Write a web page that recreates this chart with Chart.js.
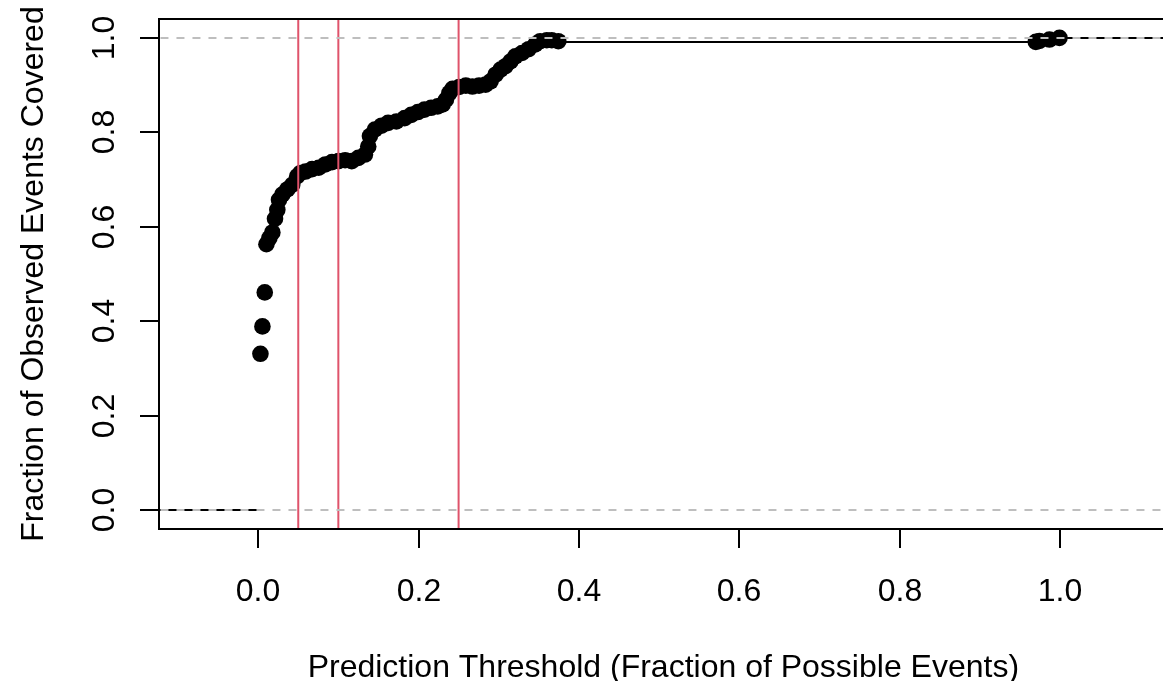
<!DOCTYPE html>
<html>
<head>
<meta charset="utf-8">
<script src="https://cdn.jsdelivr.net/npm/chart.js@4.4.1/dist/chart.umd.min.js"></script>
<style>
  html, body { margin: 0; padding: 0; background: #fff; overflow: hidden; }
  #wrap { width: 1163px; height: 681px; overflow: hidden; position: relative; }
  #mycanvas { display: block; }
</style>
</head>
<body>
<div id="wrap"><canvas id="mycanvas" width="1176" height="681"></canvas></div>
<script>
// threshold (fraction of possible events) vs fraction of observed events covered
var thresholdX = [0.0028, 0.0053, 0.0082, 0.0103, 0.0140, 0.0177, 0.0210, 0.0239, 0.0260, 0.0301,
  0.0363, 0.0425, 0.0487, 0.0528, 0.0590, 0.0672, 0.0755, 0.0837, 0.0920, 0.1002,
  0.1085, 0.1167, 0.1250, 0.1332, 0.1373, 0.1394, 0.1456, 0.1538, 0.1621, 0.1724,
  0.1827, 0.1909, 0.1992, 0.2074, 0.2157, 0.2239, 0.2301, 0.2342, 0.2384, 0.2425,
  0.2507, 0.2590, 0.2672, 0.2755, 0.2837, 0.2899, 0.2961, 0.3023, 0.3085, 0.3146,
  0.3208, 0.3291, 0.3373, 0.3456, 0.3517, 0.3600, 0.3662, 0.3744,
  0.9700, 0.9745, 0.9870, 0.9995];
var coveredY = [0.331, 0.389, 0.461, 0.563, 0.576, 0.588, 0.617, 0.636, 0.657, 0.668,
  0.679, 0.689, 0.707, 0.714, 0.717, 0.722, 0.725, 0.732, 0.737, 0.739,
  0.741, 0.739, 0.746, 0.753, 0.770, 0.792, 0.806, 0.814, 0.820, 0.823,
  0.830, 0.837, 0.843, 0.848, 0.852, 0.855, 0.859, 0.869, 0.883, 0.892,
  0.896, 0.899, 0.897, 0.899, 0.901, 0.908, 0.922, 0.933, 0.940, 0.950,
  0.961, 0.968, 0.976, 0.986, 0.993, 0.995, 0.995, 0.993,
  0.9915, 0.9935, 0.9965, 1.0];

// step segments of the coverage line
var segStartX = [-0.3, 0.3744, 0.9995];
var segEndX = [0.0028, 0.9700, 1.3];
var segY = [0, 0.9915, 1.0];

// reference thresholds (red) and reference levels (grey dashed)
var redThresholds = [0.05, 0.1, 0.25];
var refLevels = [0, 1];

var xTicks = [0, 0.2, 0.4, 0.6, 0.8, 1.0];
var xTickLabels = ['0.0', '0.2', '0.4', '0.6', '0.8', '1.0'];
var yTicks = [0, 0.2, 0.4, 0.6, 0.8, 1.0];
var yTickLabels = ['0.0', '0.2', '0.4', '0.6', '0.8', '1.0'];

var xTitle = 'Prediction Threshold (Fraction of Possible Events)';
var yTitle = 'Fraction of Observed Events Covered';

var FONT = '32px "Liberation Sans", Arial, Helvetica, sans-serif';

var pts = [];
for (var i in thresholdX) {
  pts.push({ x: thresholdX[i], y: coveredY[i] });
}

var datasets = [];

for (var j = 0; j < refLevels.length; j++) {
  datasets.push({
    data: [{ x: -1, y: refLevels[j] }, { x: 2, y: refLevels[j] }],
    showLine: true, borderColor: '#bebebe', borderWidth: 2, borderDash: [8, 8],
    pointRadius: 0, order: 0
  });
}
for (var k = 0; k < redThresholds.length; k++) {
  datasets.push({
    data: [{ x: redThresholds[k], y: -0.5 }, { x: redThresholds[k], y: 1.5 }],
    showLine: true, borderColor: '#DF536B', borderWidth: 2,
    pointRadius: 0, order: 1
  });
}
for (var s = 0; s < segY.length; s++) {
  datasets.push({
    data: [{ x: segStartX[s], y: segY[s] }, { x: segEndX[s], y: segY[s] }],
    showLine: true, borderColor: '#000', borderWidth: 2,
    pointRadius: 0, order: 2
  });
}
datasets.push({
  data: pts,
  showLine: false,
  pointRadius: 8.3,
  pointBorderWidth: 0,
  pointBackgroundColor: '#000',
  pointBorderColor: '#000',
  order: 3
});

// R style box, ticks and labels
var rAxes = {
  id: 'rAxes',
  afterDraw: function(chart) {
    var ctx = chart.ctx;
    var a = chart.chartArea;
    var xs = chart.scales.x;
    var ys = chart.scales.y;
    ctx.save();
    ctx.strokeStyle = '#000';
    ctx.lineWidth = 2;
    ctx.strokeRect(a.left, a.top, a.right - a.left, a.bottom - a.top);

    ctx.fillStyle = '#000';
    ctx.font = FONT;
    ctx.textAlign = 'center';
    ctx.textBaseline = 'alphabetic';

    for (var i = 0; i < xTicks.length; i++) {
      var px = Math.round(xs.getPixelForValue(xTicks[i]));
      ctx.beginPath();
      ctx.moveTo(px, a.bottom);
      ctx.lineTo(px, a.bottom + 19);
      ctx.stroke();
      ctx.fillText(xTickLabels[i], px, 600.5);
    }
    for (var j = 0; j < yTicks.length; j++) {
      var py = Math.round(ys.getPixelForValue(yTicks[j]));
      ctx.beginPath();
      ctx.moveTo(a.left, py);
      ctx.lineTo(a.left - 19, py);
      ctx.stroke();
      ctx.save();
      ctx.translate(113.5, py);
      ctx.rotate(-Math.PI / 2);
      ctx.fillText(yTickLabels[j], 0, 0);
      ctx.restore();
    }

    ctx.fillText(xTitle, (a.left + a.right) / 2, 677);
    ctx.save();
    ctx.translate(43, (a.top + a.bottom) / 2);
    ctx.rotate(-Math.PI / 2);
    ctx.fillText(yTitle, 0, 0);
    ctx.restore();
    ctx.restore();
  }
};

var ctx = document.getElementById('mycanvas');
var myChart = new Chart(ctx, {
  type: 'scatter',
  data: { datasets: datasets },
  options: {
    responsive: false,
    animation: false,
    events: [],
    layout: { padding: { left: 159, top: 19, right: 0, bottom: 152 } },
    plugins: { legend: { display: false }, tooltip: { enabled: false } },
    scales: {
      x: { type: 'linear', min: -0.1237, max: 1.1345, display: false },
      y: { type: 'linear', min: -0.04, max: 1.04, display: false }
    }
  },
  plugins: [rAxes]
});
</script>
</body>
</html>
